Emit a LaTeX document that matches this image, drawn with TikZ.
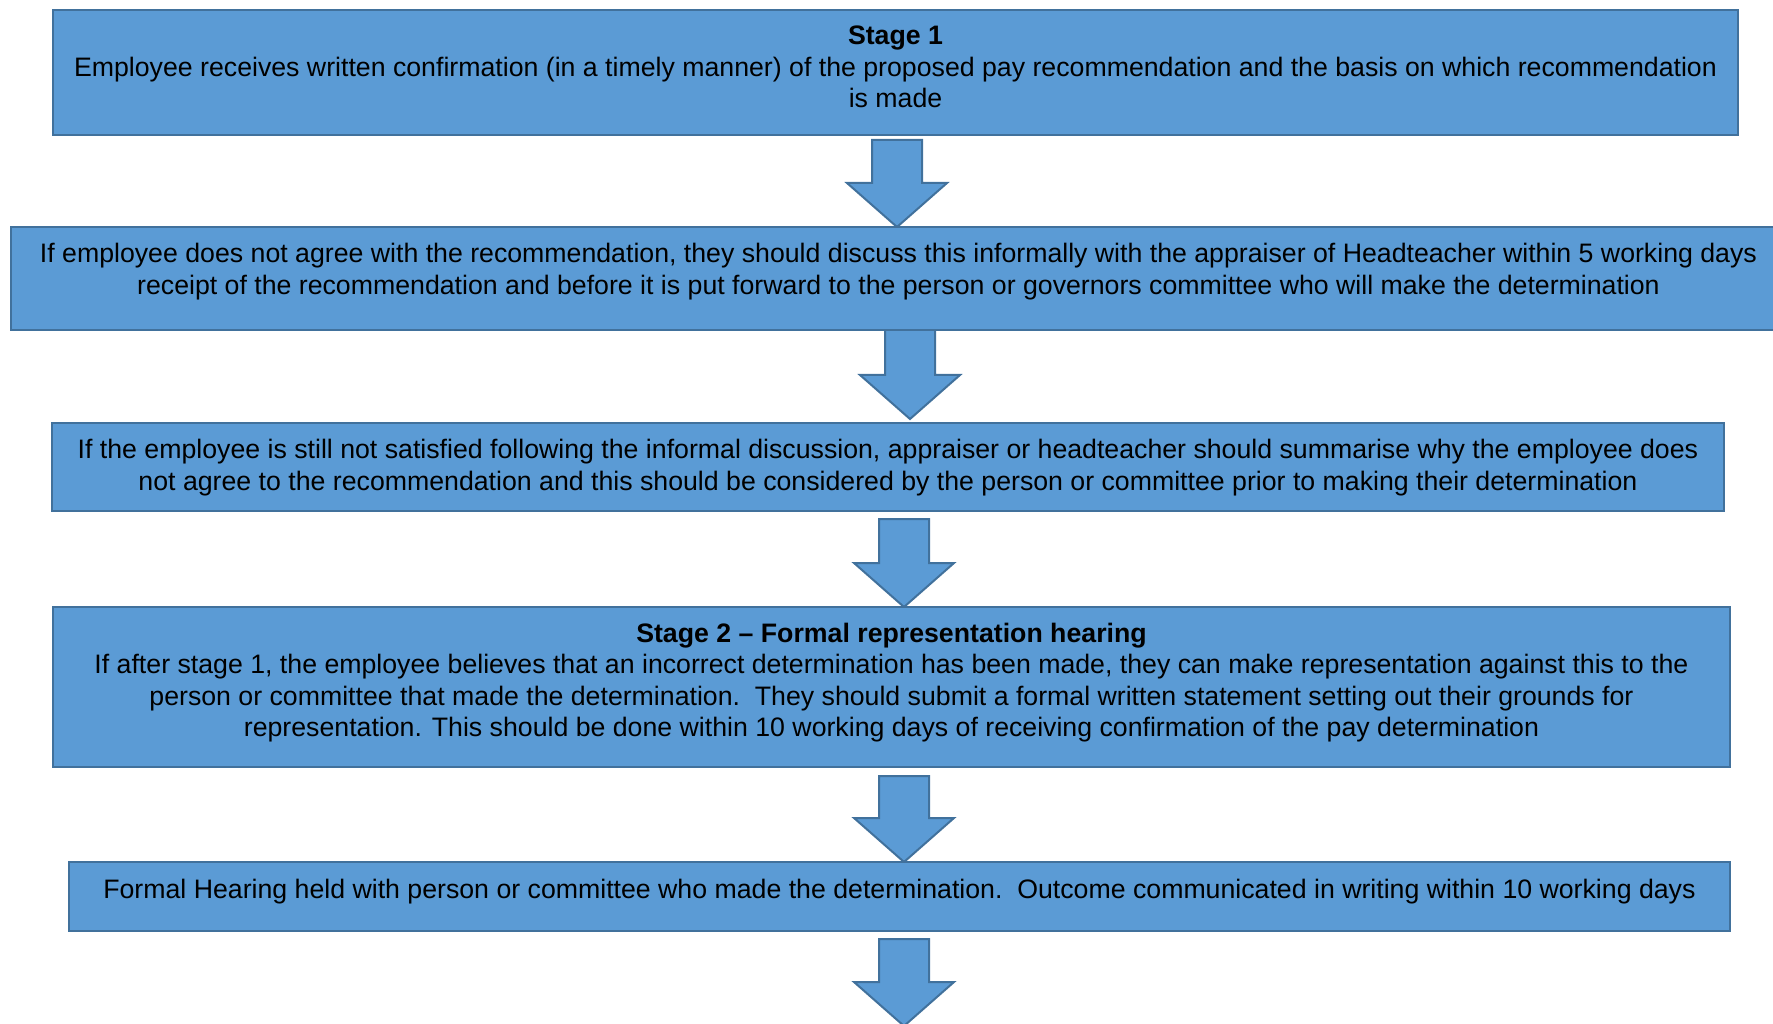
\documentclass[tikz,border=0pt]{standalone}
\usepackage{fontspec}
\setmainfont{Liberation Sans}
\usetikzlibrary{calc}

\definecolor{stagefill}{HTML}{5B9BD5}
\definecolor{stageline}{HTML}{41719C}

\tikzset{
    stagebox/.style={draw=stageline, fill=stagefill, line width=2pt, inner sep=0pt},
    stagetext/.style={align=center, inner sep=0pt, font=\fontsize{26.7}{31.4}\selectfont},
    flowarrow/.style={draw=stageline, fill=stagefill, line width=2pt, line join=miter},
}

% block arrow from the top of its shaft down to its tip
\newcommand{\blockarrow}[2]{%
    \draw[flowarrow] ($(#1)+(-25,0)$) -- ($(#1)+(25,0)$) -- ($(#2)+(25,-44)$)
        -- ($(#2)+(50,-44)$) -- (#2) -- ($(#2)+(-50,-44)$) -- ($(#2)+(-25,-44)$) -- cycle;}

\begin{document}
\begin{tikzpicture}[x=1pt, y=-1pt] % one unit = one pixel, y grows downwards
    \useasboundingbox (0,0) rectangle (1773,1024);

    % arrows between the stages
    \coordinate (a1) at (897,140);  \coordinate (t1) at (897,227);
    \coordinate (a2) at (910,330);  \coordinate (t2) at (910,419);
    \coordinate (a3) at (904,519);  \coordinate (t3) at (904,607);
    \coordinate (a4) at (904,776);  \coordinate (t4) at (904,862);
    \coordinate (a5) at (904,939);  \coordinate (t5) at (904,1026);
    \blockarrow{a1}{t1}
    \blockarrow{a2}{t2}
    \blockarrow{a3}{t3}
    \blockarrow{a4}{t4}
    \blockarrow{a5}{t5}

    % stage boxes
    \node[stagebox, minimum width=1685pt, minimum height=125pt] (confirm) at (895.5,72.5) {};
    \node[stagebox, minimum width=1775pt, minimum height=103pt] (informal) at (898.5,278.5) {};
    \node[stagebox, minimum width=1672pt, minimum height=88pt] (summary) at (888,467) {};
    \node[stagebox, minimum width=1677pt, minimum height=160pt] (formal) at (891.5,687) {};
    \node[stagebox, minimum width=1661pt, minimum height=69pt] (hearing) at (899.5,896.5) {};

    % texts
    \node[stagetext] at ([yshift=5.5pt]confirm.center) {\textbf{Stage 1}\\
        Employee receives written confirmation (in a timely manner) of the proposed pay recommendation and the basis on which recommendation\\
        is made};
    \node[stagetext] at ([yshift=7pt]informal.center) {If employee does not agree with the recommendation, they should discuss this informally with the appraiser of Headteacher within 5 working days\\
        receipt of the recommendation and before it is put forward to the person or governors committee who will make the determination};
    \node[stagetext] at ([yshift=-0.5pt]summary.center) {If the employee is still not satisfied following the informal discussion, appraiser or headteacher should summarise why the employee does\\
        not agree to the recommendation and this should be considered by the person or committee prior to making their determination};
    \node[stagetext] at ([yshift=4.5pt]formal.center) {\textbf{Stage 2 -- Formal representation hearing}\\
        If after stage 1, the employee believes that an incorrect determination has been made, they can make representation against this to the\\
        person or committee that made the determination.\ \ They should submit a formal written statement setting out their grounds for\\
        representation. This should be done within 10 working days of receiving confirmation of the pay determination};
    \node[stagetext] at ([yshift=5pt]hearing.center) {Formal Hearing held with person or committee who made the determination.\ \ Outcome communicated in writing within 10 working days};
\end{tikzpicture}
\end{document}
